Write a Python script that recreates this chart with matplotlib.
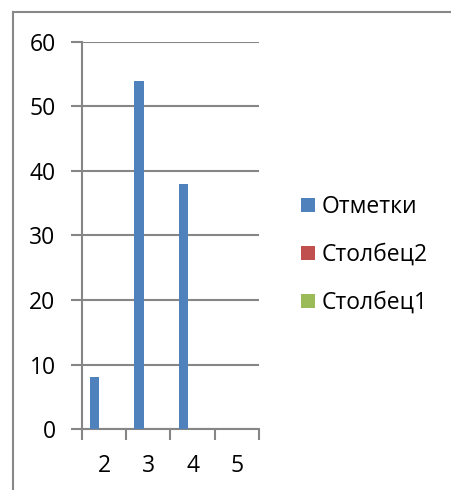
import numpy as np
import matplotlib.pyplot as plt
from matplotlib.lines import Line2D

categories = ['2', '3', '4', '5']
otmetki = [8, 54, 38, 0]
stolbec2 = [0, 0, 0, 0]
stolbec1 = [0, 0, 0, 0]
series_names = ['Отметки', 'Столбец2', 'Столбец1']
colors = ['#4f81bd', '#c0504d', '#9bbb59']

plt.rcParams['font.family'] = ['Open Sans', 'DejaVu Sans']

W, H = 452, 490
fig = plt.figure(figsize=(W / 100, H / 100), dpi=100)
ax = fig.add_axes([82 / W, (H - 429) / H, (259 - 82) / W, (429 - 42) / H])

x = np.arange(len(categories))
w = 0.21
for i, (vals, name, c) in enumerate(zip([otmetki, stolbec2, stolbec1], series_names, colors)):
    ax.bar(x + (i - 1) * w, vals, w, color=c, label=name, zorder=3)

ax.set_xlim(-0.5, len(categories) - 0.5)
ax.set_ylim(0, 60)
ax.set_yticks(range(0, 61, 10))
ax.set_xticks(x)
ax.set_xticklabels(categories)
ax.set_xticks(np.arange(len(categories) + 1) - 0.5, minor=True)

grid_c = '#868686'
ax.grid(axis='y', color=grid_c, lw=1.5, zorder=0)
for s in ['top', 'right']:
    ax.spines[s].set_visible(False)
for s in ['left', 'bottom']:
    ax.spines[s].set_color(grid_c)
    ax.spines[s].set_linewidth(1.5)

fs = 16.5
ax.tick_params(axis='y', length=8, width=1.5, color=grid_c, pad=11, labelsize=fs)
ax.tick_params(axis='x', which='major', length=0, pad=18, labelsize=fs)
ax.tick_params(axis='x', which='minor', length=8, width=1.5, color=grid_c)

ax.legend(loc='center left', bbox_to_anchor=(301 / W, (H - 255) / H), bbox_transform=fig.transFigure,
          frameon=False, fontsize=fs, handlelength=0.6, handleheight=0.6,
          handletextpad=0.3, labelspacing=1.05, borderaxespad=0, borderpad=0)

fig.add_artist(Line2D([13 / W, 13 / W], [-0.05, (H - 12) / H], color='#888888', lw=1.5))
fig.add_artist(Line2D([13 / W, 1.05], [(H - 12) / H, (H - 12) / H], color='#888888', lw=1.5))

fig.savefig('out.png', dpi=100)
